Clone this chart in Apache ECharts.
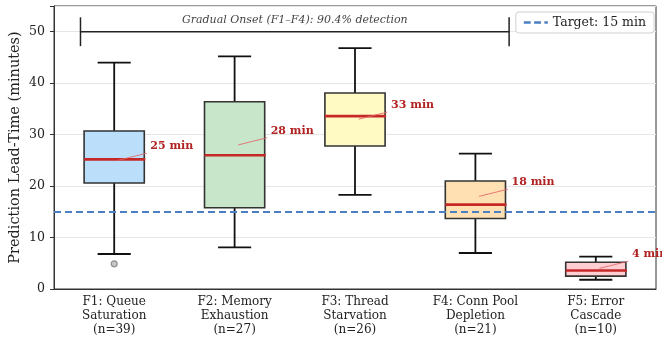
<!DOCTYPE html>
<html>
<head>
<meta charset="utf-8">
<script src="https://cdn.jsdelivr.net/npm/echarts@6/dist/echarts.min.js"></script>
<style>html,body{margin:0;padding:0;background:#fff}#c{width:662px;height:347px}</style>
</head>
<body>
<div id="c"></div>
<script>
const categories = ['F1: Queue\nSaturation\n(n=39)', 'F2: Memory\nExhaustion\n(n=27)', 'F3: Thread\nStarvation\n(n=26)', 'F4: Conn Pool\nDepletion\n(n=21)', 'F5: Error\nCascade\n(n=10)'];
const whiskerLow = [6.8, 8.1, 18.3, 7.0, 1.8];
const q1 = [20.6, 15.8, 27.8, 13.7, 2.5];
const median = [25.2, 26.0, 33.6, 16.4, 3.6];
const q3 = [30.7, 36.4, 38.1, 21.0, 5.2];
const whiskerHigh = [44.0, 45.2, 46.8, 26.3, 6.3];
const means = [25, 28, 33, 18, 4];
const outliers = [[0, 4.9]];
const targetValue = 15;
const bracketStart = 0;   // F1
const bracketEnd = 3;     // F4
const bracketValue = 50;
const bracketText = 'Gradual Onset (F1\u2013F4): 90.4% detection';
const yTicks = [0, 10, 20, 30, 40, 50];

const fills = ['#bbdefb', '#c8e6c9', '#fff9c4', '#ffe0b2', '#ffcdd2'];
const FONT = 'DejaVu Serif';

const boxData = categories.map((c, i) => [i, whiskerLow[i], q1[i], median[i], q3[i], whiskerHigh[i]]);
const meanData = means.map((m, i) => [i, m]);

const chart = echarts.init(document.getElementById('c'), null, {renderer: 'canvas'});
chart.setOption({
  animation: false,
  grid: {left: 54, right: 6, top: 6, bottom: 58, containLabel: false, outerBoundsMode: 'none',
    show: true, borderColor: '#333', borderWidth: 1, backgroundColor: 'transparent'},
  legend: {
    right: 8, top: 12, padding: [4, 8], itemGap: 0,
    backgroundColor: '#fff', borderColor: '#d0d0d0', borderWidth: 1, borderRadius: 3,
    itemWidth: 24, itemHeight: 10,
    textStyle: {fontFamily: FONT, fontSize: 12.5, color: '#222'},
    data: [{name: 'Target: 15 min', icon: 'path://M0,4 L6,4 L6,6 L0,6 Z M9,4 L15,4 L15,6 L9,6 Z M18,4 L21,4 L21,6 L18,6 Z', itemStyle: {color: '#4a7fc1'}}]
  },
  xAxis: {
    type: 'category', data: categories,
    axisLine: {lineStyle: {color: '#333'}},
    axisTick: {alignWithLabel: true, length: 4, lineStyle: {color: '#333'}},
    axisLabel: {fontFamily: FONT, fontSize: 12, color: '#222', lineHeight: 14, margin: 6},
    splitLine: {show: false}
  },
  yAxis: {
    type: 'value', min: 0, max: 55, interval: 10,
    name: 'Prediction Lead-Time (minutes)', nameLocation: 'middle', nameGap: 31, nameMoveOverlap: false,
    nameTextStyle: {fontFamily: FONT, fontSize: 14.5, color: '#222'},
    axisLine: {show: true, lineStyle: {color: '#333'}},
    axisTick: {show: true, length: 4, lineStyle: {color: '#333'}},
    axisLabel: {fontFamily: FONT, fontSize: 12.5, color: '#222', margin: 9,
      formatter: v => yTicks.includes(v) ? String(v) : ''},
    splitLine: {lineStyle: {color: '#e6e6e6', width: 1}}
  },
  series: [
    {
      name: 'Target: 15 min', type: 'line', data: [], symbol: 'none',
      lineStyle: {color: '#4a7fc1', type: [6, 4], width: 1.8},
      itemStyle: {color: '#4a7fc1'},
      markLine: {silent: true, symbol: 'none', label: {show: false},
        lineStyle: {color: '#4a7fc1', type: [7, 4], width: 1.8},
        data: [{yAxis: targetValue}]}
    },
    {
      type: 'custom', z: 3,
      data: boxData,
      renderItem: function (params, api) {
        const i = api.value(0);
        const band = api.size([1, 0])[0];
        const c = api.coord([i, api.value(3)]);
        const x = c[0];
        const yLow = api.coord([i, api.value(1)])[1];
        const yQ1 = api.coord([i, api.value(2)])[1];
        const yMed = c[1];
        const yQ3 = api.coord([i, api.value(4)])[1];
        const yHigh = api.coord([i, api.value(5)])[1];
        const bw = band * 0.5, cw = band * 0.275;
        const ws = {stroke: '#111', lineWidth: 1.8};
        return {type: 'group', children: [
          {type: 'line', shape: {x1: x, y1: yQ1, x2: x, y2: yLow}, style: ws},
          {type: 'line', shape: {x1: x, y1: yQ3, x2: x, y2: yHigh}, style: ws},
          {type: 'line', shape: {x1: x - cw / 2, y1: yLow, x2: x + cw / 2, y2: yLow}, style: ws},
          {type: 'line', shape: {x1: x - cw / 2, y1: yHigh, x2: x + cw / 2, y2: yHigh}, style: ws},
          {type: 'rect', shape: {x: x - bw / 2, y: yQ3, width: bw, height: yQ1 - yQ3},
            style: {fill: fills[i], stroke: '#333', lineWidth: 1.6}},
          {type: 'line', shape: {x1: x - bw / 2, y1: yMed, x2: x + bw / 2 + 1, y2: yMed},
            style: {stroke: '#c62828', lineWidth: 2.6}}
        ]};
      }
    },
    {
      type: 'custom', z: 4,
      data: meanData,
      renderItem: function (params, api) {
        const i = api.value(0);
        const m = api.value(1);
        const band = api.size([1, 0])[0];
        const p0 = api.coord([i, m]);
        const p1 = api.coord([i, m + 1.4]);
        const pt = api.coord([i, m + 2.7]);
        return {type: 'group', children: [
          {type: 'line', shape: {x1: p0[0] + band * 0.03, y1: p0[1], x2: p1[0] + band * 0.27, y2: p1[1]},
            style: {stroke: '#e06666', lineWidth: 1, opacity: 0.85}},
          {type: 'text', x: pt[0] + band * 0.3, y: pt[1],
            style: {text: m + ' min', fill: '#b22222', font: 'bold 11px "DejaVu Serif"', textAlign: 'left', textVerticalAlign: 'middle'}}
        ]};
      }
    },
    {
      type: 'scatter', z: 5, data: outliers, symbol: 'circle', symbolSize: 6,
      itemStyle: {color: '#b8b8b8', borderColor: '#808080', borderWidth: 1.2}
    },
    {
      type: 'custom', z: 6,
      data: [[bracketStart, bracketEnd, bracketValue]],
      renderItem: function (params, api) {
        const s = api.value(0), e = api.value(1), v = api.value(2);
        const band = api.size([1, 0])[0];
        const a = api.coord([s, v]);
        const b = api.coord([e, v]);
        const top = api.coord([s, v + 2.8])[1];
        const bot = api.coord([s, v - 2.8])[1];
        const txt = api.coord([s, v + 2.2])[1];
        const xa = a[0] - band * 0.28, xb = b[0] + band * 0.28;
        const st = {stroke: '#222', lineWidth: 1.5};
        return {type: 'group', children: [
          {type: 'line', shape: {x1: xa, y1: a[1], x2: xb, y2: b[1]}, style: st},
          {type: 'line', shape: {x1: xa, y1: top, x2: xa, y2: bot}, style: st},
          {type: 'line', shape: {x1: xb, y1: top, x2: xb, y2: bot}, style: st},
          {type: 'text', x: (xa + xb) / 2, y: txt,
            style: {text: bracketText, fill: '#444', font: 'italic 11px "DejaVu Serif"', textAlign: 'center', textVerticalAlign: 'middle'}}
        ]};
      }
    }
  ]
});
</script>
</body>
</html>
